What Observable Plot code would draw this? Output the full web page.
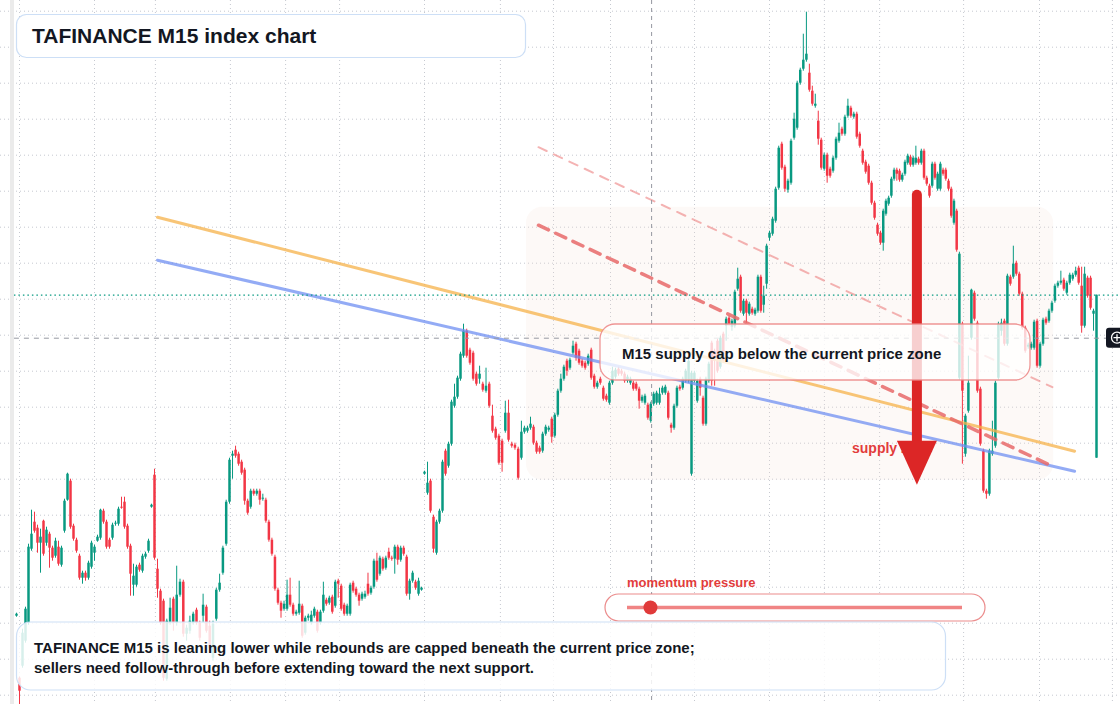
<!DOCTYPE html>
<html><head><meta charset="utf-8">
<script src="https://cdn.jsdelivr.net/npm/d3@7"></script>
<script src="https://cdn.jsdelivr.net/npm/@observablehq/plot@0.6"></script>
<style>
body{margin:0;background:#fff;}
#wrap{position:relative;width:1120px;height:704px;overflow:hidden;font-family:"Liberation Sans",Arial,sans-serif;}
</style></head><body><div id="wrap"></div>
<script>
// ---- candle data (index points), one value per M15 bar ----
const opens = [
385,323,335,360,378,452,479,473,458,480,
458,467,453,445,454,436,470,501,520,475,
461,445,423,428,423,434,448,460,463,490,
479,461,463,477,477,494,499,475,455,416,
416,436,430,444,450,494,526,432,410,400,
322,378,402,378,406,419,367,370,378,391,
378,385,394,375,343,382,411,428,457,499,
545,551,547,539,531,500,494,510,507,510,
502,501,479,461,444,411,398,392,392,406,
396,387,388,395,368,383,378,385,389,378,
390,401,398,404,395,420,415,396,387,387,
418,412,406,402,404,417,408,414,440,427,
442,433,449,443,442,454,441,453,444,407,
420,419,407,411,527,508,520,484,448,479,
490,550,535,557,595,604,622,645,670,651,
648,627,622,617,610,617,585,572,565,560,
570,588,557,556,552,543,569,570,573,574,
558,553,550,567,571,582,565,586,610,622,
640,633,648,657,650,640,638,637,651,625,
614,622,613,605,598,618,624,632,630,627,
620,618,618,617,612,600,598,596,580,597,
598,598,608,608,608,576,573,595,614,613,
620,620,527,620,600,622,603,577,620,658,
650,660,634,667,675,683,674,675,712,724,
687,700,687,692,687,690,724,696,717,763,
767,780,813,857,834,811,818,863,873,918,
932,941,928,910,895,880,861,832,846,832,
830,843,860,872,867,885,893,884,887,867,
850,839,835,818,798,776,768,758,787,797,
805,822,831,830,821,827,838,844,836,838,
842,838,850,823,815,815,837,812,812,831,
831,820,812,778,790,623,677,547,590,663,
708,678,612,550,510,507,547,555,623,670,
680,657,724,724,738,727,707,673,654,653,
653,680,635,657,682,680,690,700,715,718,
721,708,718,722,726,733,715,675,723,723,
687,543];
const closes = [
387,310,368,392,454,467,470,458,464,447,
471,453,443,460,437,453,500,527,474,462,
450,423,428,423,438,458,454,464,491,479,
454,454,476,478,492,493,474,454,427,425,
434,431,445,447,460,496,443,412,378,323,
380,393,378,406,419,367,373,380,387,378,
363,396,370,353,377,411,418,453,499,541,
547,545,537,528,500,488,510,507,510,501,
503,480,461,447,412,398,390,397,406,396,
387,389,397,365,383,385,386,392,370,389,
406,397,403,389,419,417,392,387,395,416,
410,406,400,407,407,407,413,440,421,443,
432,443,443,442,454,441,453,447,407,420,
428,413,420,413,529,518,490,452,479,490,
539,527,557,599,604,623,647,670,645,638,
622,617,627,611,615,595,570,563,538,538,
588,561,555,553,523,569,573,573,577,558,
549,549,567,574,573,564,586,610,622,634,
630,641,655,643,638,635,633,645,623,614,
618,618,602,601,618,630,631,627,627,620,
624,622,612,612,600,604,605,583,597,607,
608,607,613,614,583,573,595,613,612,622,
630,640,628,628,620,613,577,622,637,620,
640,630,663,640,682,677,680,709,722,690,
700,688,697,688,691,724,690,705,755,768,
782,812,853,833,812,820,860,882,918,931,
941,947,911,897,897,862,833,846,825,825,
843,862,868,867,884,895,885,887,864,855,
838,829,818,798,783,767,758,790,800,803,
822,831,827,821,826,839,845,836,843,843,
838,850,823,817,805,837,823,827,837,827,
822,812,785,800,751,747,610,585,618,711,
682,610,557,510,507,550,550,618,677,678,
657,725,717,737,727,707,673,650,656,657,
679,635,657,681,678,690,698,715,718,720,
712,718,726,726,730,718,675,727,705,693,
690,706];
const highs = [
388,324,372,394,457,491,489,476,472,481,
474,469,455,463,460,455,502,528,522,477,
463,447,430,430,440,460,456,466,492,492,
481,463,478,480,494,504,504,477,457,437,
436,438,447,449,462,497,532,442,412,402,
382,403,404,435,422,421,376,385,389,393,
380,407,396,380,380,413,427,455,501,543,
550,555,549,541,533,502,512,512,512,512,
507,503,481,463,446,413,400,400,421,423,
398,391,420,397,385,387,390,394,391,391,
419,403,405,406,421,422,417,398,397,418,
420,414,408,409,410,428,415,442,448,445,
444,445,453,445,456,456,455,455,446,422,
430,421,423,414,530,539,522,486,481,492,
541,552,559,601,617,625,649,677,672,653,
650,629,635,619,633,619,596,574,567,562,
600,601,559,558,554,580,575,575,584,576,
560,555,569,576,575,584,588,612,627,636,
642,643,660,659,652,642,640,647,653,627,
620,624,615,607,620,634,633,634,632,629,
626,624,620,619,614,606,607,598,599,609,
610,613,615,616,610,578,597,615,616,624,
632,642,630,630,622,624,605,624,639,660,
652,662,665,669,684,685,682,711,733,726,
702,702,699,694,693,726,726,715,757,770,
784,814,855,859,836,822,862,888,920,933,
967,989,937,915,907,890,863,848,848,834,
845,864,878,874,886,902,895,889,889,869,
852,841,837,820,800,778,770,792,802,805,
824,833,833,832,828,841,847,846,845,855,
844,852,852,825,817,839,839,829,839,833,
833,822,814,802,792,749,679,587,645,712,
710,680,614,552,512,552,580,620,679,682,
682,727,726,755,740,729,709,675,658,659,
681,682,659,683,684,692,700,717,720,730,
723,720,728,728,734,735,734,734,725,725,
692,706];
const lows = [
384,292,333,358,376,450,468,448,428,445,
455,433,440,443,435,434,468,500,472,460,
448,421,417,420,421,432,440,459,461,477,
452,452,461,475,475,492,472,452,405,405,
414,429,428,442,448,493,441,403,376,320,
320,376,370,375,404,364,360,367,376,376,
360,378,368,350,340,380,409,426,455,497,
522,543,535,526,496,486,492,505,505,496,
500,478,459,445,410,396,383,390,390,394,
385,385,386,363,366,380,376,383,368,376,
388,395,396,387,393,403,390,385,385,385,
408,404,395,400,402,405,406,412,419,425,
430,431,441,440,427,436,439,445,405,401,
418,411,405,410,526,506,488,448,446,477,
488,525,533,555,593,602,620,643,643,636,
620,615,617,609,608,593,568,561,536,529,
568,559,553,551,521,541,567,568,571,556,
547,547,548,565,569,558,563,584,608,620,
625,631,646,640,636,633,631,635,621,612,
612,616,600,599,596,616,622,625,625,618,
618,616,610,610,592,598,596,581,578,595,
596,596,606,606,581,568,571,593,610,611,
618,618,525,618,598,605,575,575,618,615,
615,628,632,638,660,675,670,673,710,688,
685,678,685,686,685,688,688,688,712,760,
765,778,811,831,809,808,816,861,871,916,
930,939,909,895,893,856,831,830,818,823,
828,841,858,865,865,883,883,882,862,853,
836,827,816,796,781,765,756,750,785,795,
803,820,820,819,819,825,836,834,834,836,
836,836,821,815,803,813,821,810,810,825,
820,810,783,776,749,621,537,544,588,661,
680,608,555,508,502,505,545,553,621,665,
655,655,715,722,725,705,671,648,652,651,
651,633,633,655,676,678,688,698,713,716,
710,706,716,720,724,716,668,673,703,691,
670,543];

// ---- session timeline: bar number -> time slot (15-min slots, sessions compressed) ----
const barAnchors = [0, 49, 69, 99, 134, 147, 165, 199, 222, 249, 261, 286, 315, 331, 361];
const slotAnchors = [0, 49, 71, 101.3, 136, 149, 168.3, 202.7, 225, 251, 263.3, 288, 314.3, 330.3, 360];

// ---- grid (session boundaries in time slots, price levels) ----
const gridSlots = [1, 26, 46.3, 71.3, 89.7, 107.7, 136, 161.3, 179, 198, 226, 251, 269.3, 287.7, 315.7, 341, 365.3];
const gridPrice = [990, 954, 918, 882, 846, 810, 774, 738, 702, 666, 630, 594, 558, 522, 486, 450, 414, 378, 342, 306];

// ---- drawn studies (time slot, price) ----
const trendOrange = [{t: 47, p: 784}, {t: 352.7, p: 550}];
const trendBlue = [{t: 47, p: 741}, {t: 352.7, p: 530}];
const channelUpper = [{t: 174, p: 854}, {t: 345.3, p: 614}];
const channelLower = [{t: 174, p: 776}, {t: 345.3, p: 535}];
const supplyZone = [{t1: 170, t2: 345.7, p1: 521, p2: 794}];
const arrowMove = {t: 300.3, from: 806, to: 516};
const crosshair = {t: 211.7, p: 663};
const momentum = 0.07; // slider position 0..1

// ---- texts ----
const titleText = "TAFINANCE M15 index chart";
const calloutText = "M15 supply cap below the current price zone";
const zoneLabel = "supply zone";
const sliderLabel = "momentum pressure";
const captionLines = [
  "TAFINANCE M15 is leaning lower while rebounds are capped beneath the current price zone;",
  "sellers need follow-through before extending toward the next support."
];

const green = "#089981", red = "#f23645";
const slotOf = d3.scaleLinear().domain(barAnchors).range(slotAnchors);
const candles = opens.map((o, i) => ({t: slotOf(i), o, c: closes[i], h: Math.max(highs[i], o, closes[i]), l: Math.min(lows[i], o, closes[i])}));
const up = candles.filter(d => d.c >= d.o), down = candles.filter(d => d.c < d.o);
const lastClose = closes[closes.length - 1];

const chart = Plot.plot({
  width: 1120, height: 704, margin: 0,
  style: {background: "transparent", overflow: "visible"},
  x: {domain: [0, 360], range: [16, 1096], axis: null},
  y: {domain: [296.7, 1000.7], axis: null},
  marks: [
    Plot.ruleY(gridPrice, {stroke: "#c6c9d0", strokeDasharray: "1,3", strokeWidth: 1}),
    Plot.ruleX(gridSlots, {stroke: "#c6c9d0", strokeDasharray: "1,3", strokeWidth: 1}),
    Plot.rect(supplyZone, {x1: "t1", x2: "t2", y1: "p1", y2: "p2", fill: "#f6e2d8", fillOpacity: 0.2, rx: 16}),
    Plot.ruleX(up, {x: "t", y1: "l", y2: "h", stroke: green, strokeWidth: 1}),
    Plot.ruleX(down, {x: "t", y1: "l", y2: "h", stroke: red, strokeWidth: 1}),
    Plot.ruleX(up, {x: "t", y1: "o", y2: "c", stroke: green, strokeWidth: 2.5}),
    Plot.ruleX(down, {x: "t", y1: "o", y2: "c", stroke: red, strokeWidth: 2.5}),
    Plot.line(trendOrange, {x: "t", y: "p", stroke: "#f6b24a", strokeWidth: 3, strokeOpacity: 0.75}),
    Plot.line(trendBlue, {x: "t", y: "p", stroke: "#6f8ff2", strokeWidth: 3, strokeOpacity: 0.75}),
    Plot.line(channelUpper, {x: "t", y: "p", stroke: "#ee8a8a", strokeWidth: 2, strokeOpacity: 0.65, strokeDasharray: "9,8"}),
    Plot.line(channelLower, {x: "t", y: "p", stroke: "#e86a6a", strokeWidth: 3.5, strokeOpacity: 0.85, strokeDasharray: "11,8"}),
    Plot.ruleY([lastClose], {x1: -0.7, x2: 369, stroke: green, strokeDasharray: "1.5,3", strokeWidth: 1.2}),
    Plot.ruleX([crosshair.t], {stroke: "#9598a1", strokeDasharray: "4,4", strokeWidth: 1}),
    Plot.ruleY([crosshair.p], {x1: -0.7, x2: 363.7, stroke: "#9598a1", strokeDasharray: "5,5", strokeWidth: 1})
  ]
});

const wrap = document.getElementById("wrap");
wrap.appendChild(chart);
const X = chart.scale("x"), Y = chart.scale("y");
const svg = d3.select(chart);
const FONT = '"Liberation Sans", Arial, sans-serif';
function label(sel, x, y, t, size, fill) {
  return sel.append("text").attr("x", x).attr("y", y).text(t)
    .attr("text-anchor", "start").attr("font-family", FONT).attr("font-weight", 700)
    .attr("font-size", size).attr("fill", fill);
}

// left pane edge
svg.append("rect").attr("x", 10).attr("y", 0).attr("width", 4).attr("height", 704).attr("fill", "#ebebeb");

// arrow
const ax = X.apply(arrowMove.t), ay0 = Y.apply(arrowMove.from), ay1 = Y.apply(arrowMove.to);
const g = svg.append("g");
label(g, 852, 453, zoneLabel, 14, "#e23c3c");
g.append("line").attr("x1", ax).attr("x2", ax).attr("y1", ay0).attr("y2", ay1 - 40)
  .attr("stroke", "#dc2626").attr("stroke-width", 10).attr("stroke-linecap", "round");
g.append("path").attr("d", `M${ax - 20},${ay1 - 44} L${ax + 20},${ay1 - 44} L${ax},${ay1} Z`).attr("fill", "#dc2626");

// callout box
const cb = svg.append("g");
cb.append("rect").attr("x", 600).attr("y", 324).attr("width", 430).attr("height", 56).attr("rx", 15)
  .attr("fill", "#ffffff").attr("fill-opacity", 0.78).attr("stroke", "#ec8484").attr("stroke-opacity", 0.85).attr("stroke-width", 1.3);
label(cb, 622, 359, calloutText, 15, "#131722");

// title box
const tb = svg.append("g");
tb.append("rect").attr("x", 16.5).attr("y", 14.5).attr("width", 509).attr("height", 43).attr("rx", 10)
  .attr("fill", "#ffffff").attr("stroke", "#cddff6").attr("stroke-width", 1.2);
label(tb, 32, 43, titleText, 21, "#131722");

// slider
const sb = svg.append("g");
label(sb, 627, 587, sliderLabel, 13, "#e23c3c");
sb.append("rect").attr("x", 605).attr("y", 594).attr("width", 380).attr("height", 27).attr("rx", 13.5)
  .attr("fill", "#ffffff").attr("stroke", "#e87878").attr("stroke-opacity", 0.85).attr("stroke-width", 1.2);
sb.append("line").attr("x1", 627).attr("x2", 962).attr("y1", 607.5).attr("y2", 607.5)
  .attr("stroke", "#f08484").attr("stroke-width", 3.5);
sb.append("circle").attr("cx", 627 + momentum * 335).attr("cy", 607.5).attr("r", 7).attr("fill", "#e03a3a");

// caption box
const bb = svg.append("g");
bb.append("rect").attr("x", 16.5).attr("y", 622).attr("width", 929).attr("height", 68).attr("rx", 14)
  .attr("fill", "#ffffff").attr("fill-opacity", 0.84).attr("stroke", "#cddff6").attr("stroke-width", 1.2);
captionLines.forEach((t, k) => label(bb, 34, 653 + k * 20, t, 15, "#131722"));

// crosshair price-scale icon
const ic = svg.append("g");
const icy = Y.apply(crosshair.p);
ic.append("rect").attr("x", 1106).attr("y", icy - 10).attr("width", 22).attr("height", 20).attr("rx", 3).attr("fill", "#131722");
ic.append("circle").attr("cx", 1117).attr("cy", icy).attr("r", 5.5).attr("fill", "none").attr("stroke", "#fff").attr("stroke-width", 1.3);
ic.append("path").attr("d", `M1113.5,${icy} H1120.5 M1117,${icy - 3.5} V${icy + 3.5}`).attr("stroke", "#fff").attr("stroke-width", 1.3);
</script></body></html>
